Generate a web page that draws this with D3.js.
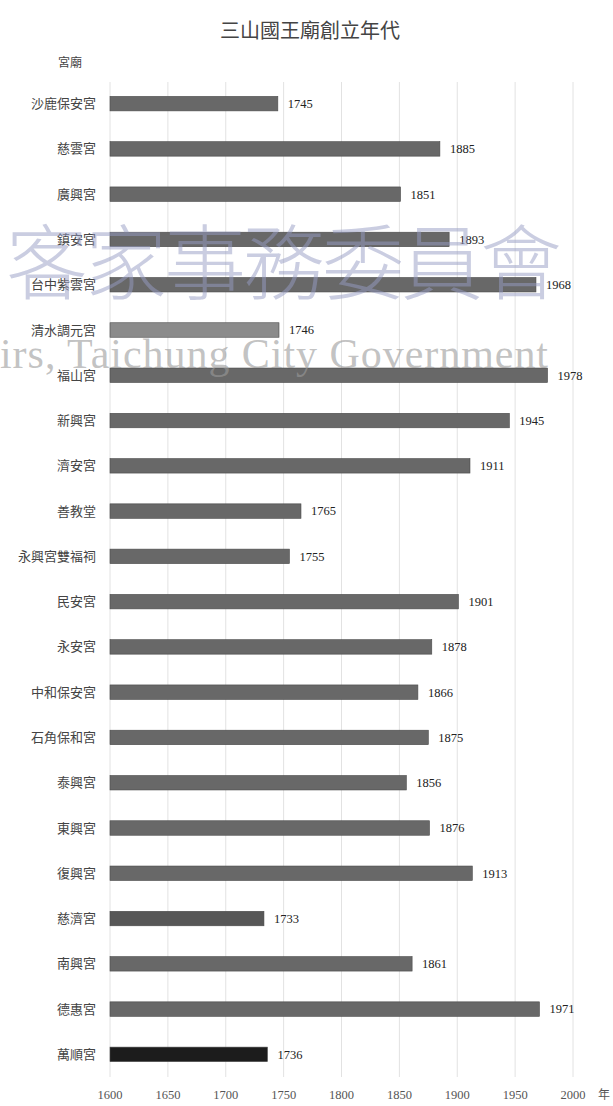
<!DOCTYPE html>
<html>
<head>
<meta charset="utf-8">
<script src="https://cdn.jsdelivr.net/npm/d3@7"></script>
<style>
  body { margin: 0; background: #fff; }
  svg { display: block; font-family: "Noto Sans CJK TC", "Noto Sans", sans-serif; }
</style>
</head>
<body>
<svg id="chart" width="613" height="1106"></svg>
<script>
// temples, top to bottom
const temples = [
  "沙鹿保安宮", "慈雲宮", "廣興宮", "鎮安宮", "台中紫雲宮", "清水調元宮",
  "福山宮", "新興宮", "濟安宮", "善教堂", "永興宮雙福祠", "民安宮",
  "永安宮", "中和保安宮", "石角保和宮", "泰興宮", "東興宮", "復興宮",
  "慈濟宮", "南興宮", "德惠宮", "萬順宮"
];

// founding year
const years = [
  1745, 1885, 1851, 1893, 1968, 1746,
  1978, 1945, 1911, 1765, 1755, 1901,
  1878, 1866, 1875, 1856, 1876, 1913,
  1733, 1861, 1971, 1736
];

const xTicks = [1600, 1650, 1700, 1750, 1800, 1850, 1900, 1950, 2000];

// a few bars have their own shade
const specialCol = { "清水調元宮": "#8b8b8b", "慈濟宮": "#575757", "萬順宮": "#1c1c1c" };
const barCol = '#686868';

const data = temples.map((t, i) => ({ name: t, year: years[i] }));

const svg = d3.select('#chart');

const x = d3.scaleLinear().domain([1600, 2000]).range([110, 573]);
const y = d3.scaleBand()
            .domain(temples)
            .range([81, 1077])
            .paddingInner(0.68)
            .paddingOuter(0.34);

// title
svg.append('text')
   .attr('x', 310).attr('y', 38)
   .attr('text-anchor', 'middle')
   .style('font-size', '20px')
   .style('fill', '#444')
   .text('三山國王廟創立年代');

svg.append('text')
   .attr('x', 70).attr('y', 67)
   .attr('text-anchor', 'middle')
   .style('font-size', '12px')
   .style('fill', '#444')
   .text('宮廟');

// gridlines
svg.append('g').selectAll('line.grid')
   .data(xTicks)
   .enter()
   .append('line')
   .attr('class', 'grid')
   .attr('x1', d => x(d)).attr('x2', d => x(d))
   .attr('y1', 82).attr('y2', 1077)
   .style('stroke', '#e2e2e2')
   .style('stroke-width', '1px');

// bars
svg.append('g').selectAll('rect.bar')
   .data(data)
   .enter()
   .append('rect')
   .attr('class', 'bar')
   .attr('x', x(1600))
   .attr('y', d => y(d.name))
   .attr('width', d => x(d.year) - x(1600))
   .attr('height', y.bandwidth())
   .style('fill', d => specialCol[d.name] || barCol)
   .style('stroke', '#4a4a4a')
   .style('stroke-width', '0.6px');

// value labels
svg.append('g').selectAll('text.val')
   .data(data)
   .enter()
   .append('text')
   .attr('class', 'val')
   .attr('x', d => x(d.year) + 10)
   .attr('y', d => y(d.name) + y.bandwidth() / 2)
   .attr('dy', '0.35em')
   .style('font-family', '"Liberation Serif", serif')
   .style('font-size', '12.5px')
   .style('fill', '#222')
   .text(d => d.year);

// category labels
svg.append('g').selectAll('text.cat')
   .data(data)
   .enter()
   .append('text')
   .attr('class', 'cat')
   .attr('x', 96)
   .attr('y', d => y(d.name) + y.bandwidth() / 2)
   .attr('dy', '0.35em')
   .attr('text-anchor', 'end')
   .style('font-size', '13px')
   .style('fill', '#444')
   .text(d => d.name);

// x axis labels
svg.append('g').selectAll('text.tick')
   .data(xTicks)
   .enter()
   .append('text')
   .attr('class', 'tick')
   .attr('x', d => x(d))
   .attr('y', 1099)
   .attr('text-anchor', 'middle')
   .style('font-family', '"Liberation Serif", serif')
   .style('font-size', '12.5px')
   .style('fill', '#555')
   .text(d => d);

svg.append('text')
   .attr('x', 598).attr('y', 1099)
   .style('font-size', '12px')
   .style('fill', '#555')
   .text('年');

// watermark
const wm = svg.append('g').style('pointer-events', 'none');
wm.append('text')
  .attr('x', 6).attr('y', 293)
  .attr('textLength', 556)
  .style('font-size', '82px')
  .style('font-weight', '300')
  .style('fill', '#959bc4')
  .style('fill-opacity', 0.5)
  .text('客家事務委員會');

wm.append('text')
  .attr('x', 0).attr('y', 368)
  .attr('textLength', 548)
  .style('font-family', '"Liberation Serif", serif')
  .style('font-size', '42px')
  .style('fill', '#9a9a9a')
  .style('fill-opacity', 0.6)
  .text('irs, Taichung City Government');
</script>
</body>
</html>
